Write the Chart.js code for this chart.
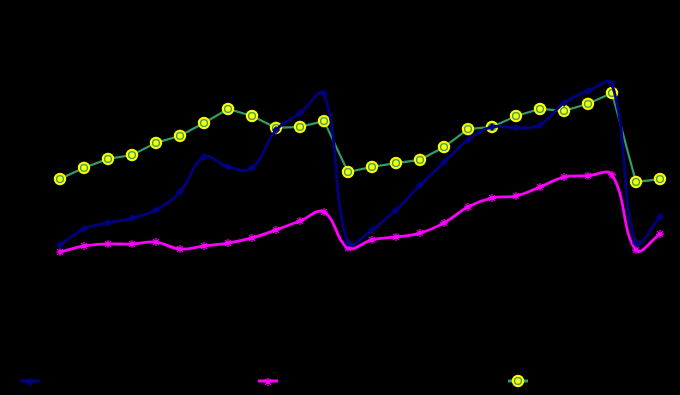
<!DOCTYPE html>
<html>
<head>
<meta charset="utf-8">
<script src="https://cdn.jsdelivr.net/npm/chart.js@4"></script>
<style>
html,body{margin:0;padding:0;background:#000;}
#wrap{width:680px;height:395px;position:relative;}
</style>
</head>
<body>
<div id="wrap"><canvas id="c" width="680" height="395"></canvas></div>
<script>
const categories = ['1','2','3','4','5','6','7','8','9','10','11','12','13','14','15','16','17','18','19','20','21','22','23','24','25','26'];
const seriesNames = ['Series 1','Series 2','Series 3'];
const navyValues = [29.7,34.7,36.6,38.1,40.6,46.3,57.2,54.1,53.8,65.6,70.9,76.9,30.3,34.4,40.6,48.4,55.6,62.5,66.6,66.3,67.2,74.1,77.8,80.0,30.3,38.4];
const magentaValues = [27.5,29.4,30.0,30.0,30.6,28.4,29.4,30.3,31.9,34.4,37.2,40.0,28.8,31.3,32.2,33.4,36.6,41.6,44.4,45.0,47.8,50.9,51.3,51.6,28.1,33.1];
const greenValues = [50.3,53.8,56.6,57.8,61.6,63.8,67.8,72.2,70.0,66.3,66.6,68.4,52.5,54.1,55.3,56.3,60.3,65.9,66.6,70.0,72.2,71.6,73.8,77.2,49.4,50.3];
const yMin = 0, yMax = 100;

// custom ring marker: yellow disc with a green ring inside
function ringMarker(){
  const s = 14, cv = document.createElement('canvas');
  cv.width = s; cv.height = s;
  const g = cv.getContext('2d');
  g.fillStyle = '#ffff00';
  g.beginPath(); g.arc(s/2, s/2, 6.2, 0, Math.PI*2); g.fill();
  g.strokeStyle = '#339966'; g.lineWidth = 1.3;
  g.beginPath(); g.arc(s/2, s/2, 3.4, 0, Math.PI*2); g.stroke();
  return cv;
}
const ring = ringMarker();

const legendPlugin = {
  id: 'customLegend',
  afterDraw(chart){
    const ctx = chart.ctx;
    const y = 381;
    const items = [
      {x: 20, color: '#000080', style: 'rectRot', r: 3.5, w: 3},
      {x: 258, color: '#ff00ff', style: 'star', r: 4, w: 3},
      {x: 508, color: '#339966', style: ring, r: 6, w: 3}
    ];
    items.forEach((it, i) => {
      ctx.save();
      ctx.strokeStyle = it.color; ctx.lineWidth = it.w;
      ctx.beginPath(); ctx.moveTo(it.x, y); ctx.lineTo(it.x + 20, y); ctx.stroke();
      if (typeof it.style === 'string') {
        ctx.lineWidth = 1.2;
        Chart.helpers.drawPoint(ctx, {pointStyle: it.style, radius: it.r, borderWidth: 1.2, rotation: 0}, it.x + 10, y + 1);
        ctx.fillStyle = it.color;
        ctx.fill();
      } else {
        ctx.drawImage(it.style, it.x + 10 - 7, y - 7);
      }
      ctx.fillStyle = '#000';
      ctx.font = '12px "Liberation Sans", Arial, sans-serif';
      ctx.textBaseline = 'middle';
      ctx.fillText(seriesNames[i], it.x + 26, y);
      ctx.restore();
    });
  }
};

new Chart(document.getElementById('c'), {
  type: 'line',
  data: {
    labels: categories,
    datasets: [
      {
        label: seriesNames[0], data: navyValues,
        borderColor: '#000080', backgroundColor: '#000080', borderWidth: 2.8,
        tension: 0.4, cubicInterpolationMode: 'default',
        pointStyle: 'rectRot', pointRadius: 3.5, pointBorderWidth: 1,
        pointBackgroundColor: '#000080', pointBorderColor: '#000080'
      },
      {
        label: seriesNames[1], data: magentaValues,
        borderColor: '#ff00ff', backgroundColor: '#ff00ff', borderWidth: 2.8,
        tension: 0.4,
        pointStyle: 'star', pointRadius: 4, pointBorderWidth: 1.2,
        pointBackgroundColor: '#ff00ff', pointBorderColor: '#ff00ff'
      },
      {
        label: seriesNames[2], data: greenValues,
        borderColor: '#339966', backgroundColor: '#339966', borderWidth: 2.2,
        tension: 0,
        pointStyle: ring, pointRadius: 6
      }
    ]
  },
  options: {
    responsive: false,
    animation: false,
    layout: {padding: {left: 60, right: 20, top: 20, bottom: 55}},
    plugins: {legend: {display: false}, tooltip: {enabled: false}},
    scales: {
      x: {display: false, offset: false},
      y: {display: false, min: yMin, max: yMax}
    }
  },
  plugins: [legendPlugin]
});
</script>
</body>
</html>
